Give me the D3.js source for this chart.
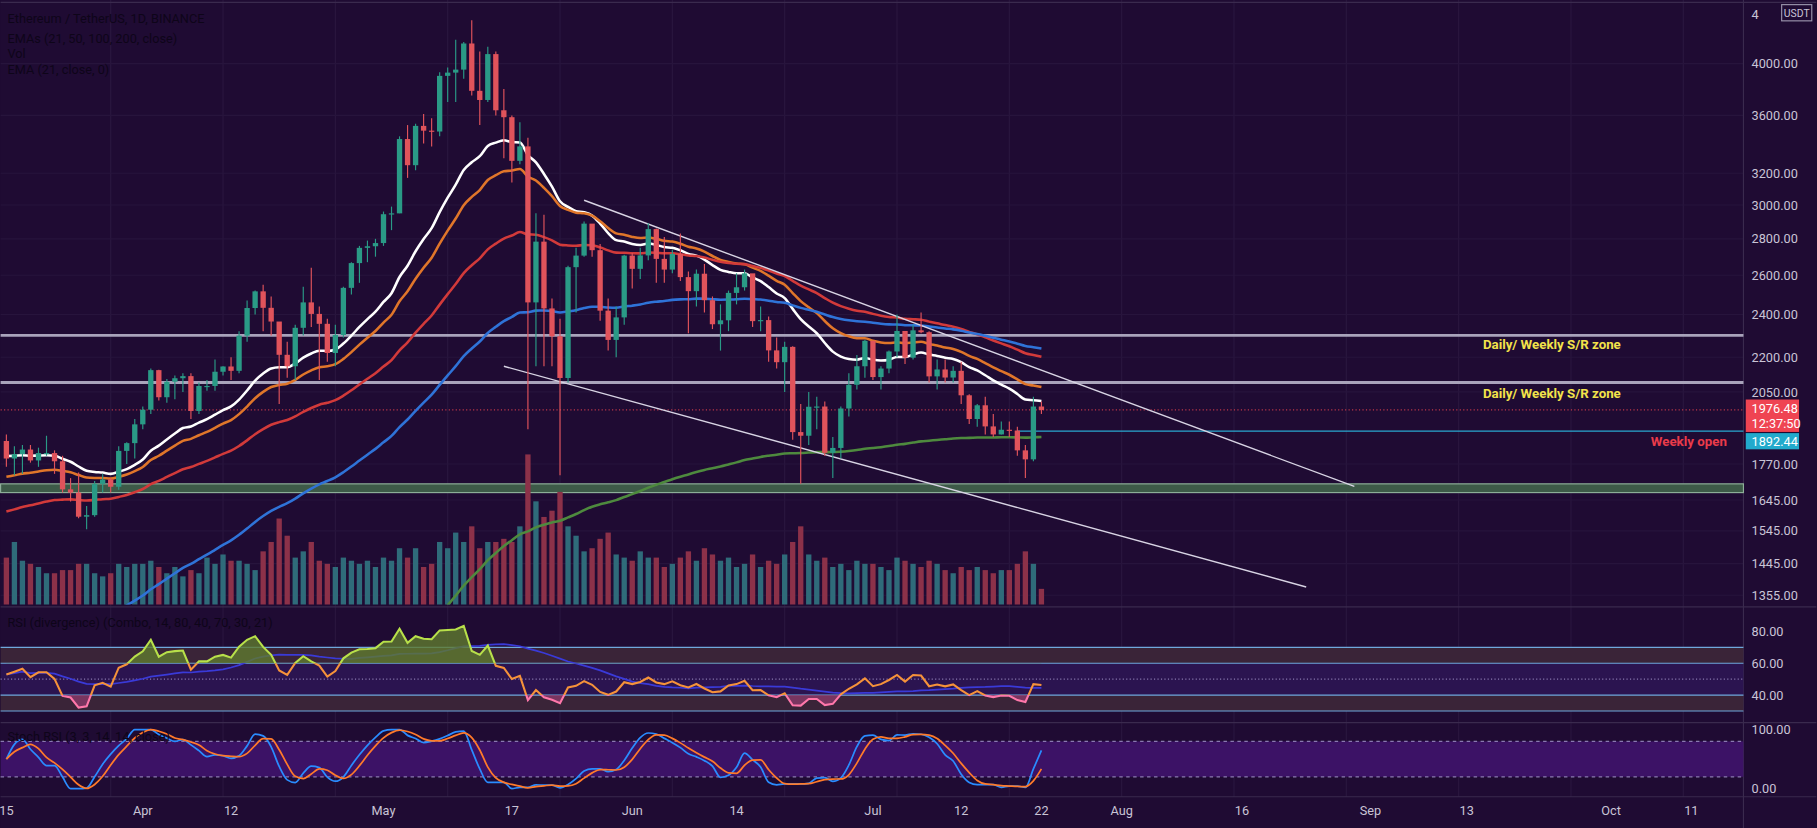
<!DOCTYPE html>
<html><head><meta charset="utf-8">
<script src="https://cdn.jsdelivr.net/npm/d3@7"></script>
<style>html,body{margin:0;padding:0;background:#1f0b33;overflow:hidden}</style>
</head><body><svg id="c"></svg>
<script>
const startDate = "2021-03-15";
const closes = [1790,1806,1823,1783,1810,1810,1780,1681,1670,1590,1595,1700,1715,1690,1818,1847,1919,
1977,2143,2028,2093,2108,2117,1972,2075,2075,2136,2159,2140,2299,2432,2516,2433,2366,2211,2160,2336,2460,2403,2355,2219,2302,2534,2665,2749,2758,2776,
2944,2949,3431,3253,3524,3490,3484,3902,3928,3952,4168,3785,3715,4079,3638,3587,3282,3380,2460,2784,2430,2296,2109,2643,2706,2888,2736,2419,2279,2386,2706,
2634,2707,2856,2688,2630,2715,2590,2517,2608,2471,2353,2372,2508,2537,2610,2368,2373,2231,2178,2247,1889,1875,1989,1990,1811,1829,1982,2080,2160,2275,
2113,2150,2226,2321,2198,2324,2315,2116,2146,2111,2140,2036,1940,1995,1911,1880,1898,1895,1820,1787,1990,1976];
const highs = [1880,1835,1840,1840,1830,1875,1820,1800,1720,1740,1625,1710,1735,1720,1835,1850,1940,
1990,2150,2145,2105,2120,2130,2130,2090,2100,2190,2160,2200,2320,2470,2520,2550,2490,2360,2270,2350,2540,2640,2440,2380,2350,2540,2670,2760,2790,2800,
2960,2990,3450,3530,3540,3610,3580,3930,3970,4200,4180,4370,4100,4140,4100,3800,3600,3550,3440,2950,2940,2480,2380,2650,2750,2900,2880,2770,2480,2440,2710,
2720,2750,2890,2860,2810,2740,2830,2620,2630,2660,2490,2450,2520,2610,2630,2600,2440,2390,2290,2270,2250,2000,2050,2030,2010,1870,1990,2130,2210,2280,
2270,2160,2230,2400,2320,2350,2410,2320,2190,2190,2160,2180,2040,2000,2030,1960,1930,1930,1910,1840,2030,2010];
const lows = [1760,1730,1735,1775,1760,1800,1735,1670,1640,1585,1550,1590,1670,1670,1680,1770,1790,
1900,1960,2015,2005,2020,2050,1940,1960,2055,2055,2120,2100,2130,2270,2400,2320,2300,2000,2110,2100,2300,2340,2100,2180,2160,2290,2500,2560,2670,2700,
2760,2850,2950,3170,3220,3400,3380,3450,3700,3700,3880,3750,3530,3700,3600,3300,3140,3260,1900,2160,2160,2160,1730,2090,2410,2700,2700,2370,2230,2200,2350,
2530,2580,2680,2560,2560,2610,2570,2310,2440,2410,2330,2230,2320,2450,2520,2340,2320,2180,2150,2050,1860,1700,1840,1900,1800,1720,1790,1950,2060,2110,
2100,2060,2130,2200,2170,2190,2310,2090,2060,2090,2090,2000,1920,1910,1880,1870,1880,1870,1800,1720,1780,1960];
const volumes = [30,40,28,26,24,20,20,22,22,26,26,20,18,20,26,24,26,26,28,24,20,24,18,22,20,30,26,32,28,28,26,22,34,40,55,44,30,34,40,28,26,24,30,28,26,28,24,
30,28,36,30,36,24,26,40,36,46,40,50,36,40,40,42,40,50,96,66,56,60,72,50,44,34,36,42,46,32,30,
28,34,30,30,24,26,30,34,28,36,32,28,30,24,26,32,24,28,26,32,40,50,32,28,30,24,26,22,28,26,
26,24,22,30,28,26,24,28,26,22,20,24,22,24,22,20,22,22,26,34,26,10];
const priceTicks = [4000,3600,3200,3000,2800,2600,2400,2200,2050,1770,1645,1545,1445,1355];
const rsiTicks = [80,60,40];
const stochTicks = [100,0];
const xTicks = [["2021-03-15","15"],["2021-04-01","Apr"],["2021-04-12","12"],["2021-05-01","May"],["2021-05-17","17"],["2021-06-01","Jun"],["2021-06-14","14"],["2021-07-01","Jul"],["2021-07-12","12"],["2021-07-22","22"],["2021-08-01","Aug"],["2021-08-16","16"],["2021-09-01","Sep"],["2021-09-13","13"],["2021-10-01","Oct"],["2021-10-11","11"]];
const emaPeriods = [21,30,55,90,200];
const emaSeeds = [1800,1720,1600,1150,520];
const emaColors = ["#ffffff","#e0762a","#d23a3a","#2f73d8","#4e8a3e"];
const srLevels = [2300,2090];
const zone = [1670,1700];
const weeklyOpen = 1892.44;
const lastPrice = 1976.48;
const trend1 = [["2021-05-26",3029],["2021-08-30",1691]];
const trend2 = [["2021-05-16",2160],["2021-08-24",1378]];

const W=1568,H=715;
const svg=d3.select("#c").attr("width",1817).attr("height",828).attr("viewBox",`0 0 ${W} ${H}`);
const parse=d3.utcParse("%Y-%m-%d");
const d0=parse(startDate);
const dates=closes.map((c,i)=>d3.utcDay.offset(d0,i));
const opens=closes.map((c,i)=>i===0?1855:closes[i-1]);
const x=d3.scaleUtc().domain([parse("2021-03-15"),parse("2021-10-11")]).range([5,1460]);
const y=d3.scaleLog().domain([1355,4000]).range([514,55]);
const vy=d3.scaleLinear().domain([0,100]).range([522,387]);
const ry=d3.scaleLinear().domain([30,70]).range([614,559]);
const sy=d3.scaleLinear().domain([0,100]).range([681,630]);
const plotR=1505;

svg.append("rect").attr("width",W).attr("height",H).attr("fill","#1f0b33");
const g=svg.append("g");
x.ticks(d3.utcWeek.every(2)).forEach(t=>g.append("line").attr("x1",x(t)).attr("x2",x(t)).attr("y1",0).attr("y2",688).attr("stroke","#2a173f").attr("stroke-width",1));
priceTicks.forEach(p=>g.append("line").attr("x1",0).attr("x2",plotR).attr("y1",y(p)).attr("y2",y(p)).attr("stroke","#27143c"));
[[524],[624],[688]].forEach(([yy])=>g.append("line").attr("x1",0).attr("x2",W).attr("y1",yy).attr("y2",yy).attr("stroke","#3a2a4e"));
g.append("line").attr("x1",plotR).attr("x2",plotR).attr("y1",0).attr("y2",H).attr("stroke","#3a2a4e");
g.append("line").attr("x1",0).attr("x2",W).attr("y1",2).attr("y2",2).attr("stroke","#3a2a4e");

svg.append("rect").attr("x",0).attr("width",plotR).attr("y",y(zone[1])).attr("height",y(zone[0])-y(zone[1])).attr("fill","#3d5a48").attr("stroke","#8fb09a").attr("stroke-width",1);
srLevels.forEach(p=>svg.append("line").attr("x1",0).attr("x2",plotR).attr("y1",y(p)).attr("y2",y(p)).attr("stroke","#a9a3bb").attr("stroke-width",2.5));
svg.append("line").attr("x1",0).attr("x2",plotR).attr("y1",y(lastPrice)).attr("y2",y(lastPrice)).attr("stroke","#c0394a").attr("stroke-dasharray","1,2");
svg.append("line").attr("x1",x(parse("2021-07-19"))).attr("x2",plotR).attr("y1",y(weeklyOpen)).attr("y2",y(weeklyOpen)).attr("stroke","#2aa8d0");

const bw=4.6;
svg.append("g").selectAll("rect").data(volumes).join("rect")
 .attr("x",(v,i)=>x(dates[i])-bw/2).attr("width",bw).attr("y",v=>vy(v)).attr("height",v=>522-vy(v))
 .attr("fill",(v,i)=>closes[i]>=opens[i]?"#2f6b7a":"#8c3149");

svg.append("clipPath").attr("id","mainclip").append("rect").attr("x",0).attr("y",0).attr("width",plotR).attr("height",522);
emaPeriods.forEach((p,k)=>{
  const a=2/(p+1); let e=emaSeeds[k]; const vals=closes.map(c=>(e=e+a*(c-e)));
  const line=d3.line().x((v,i)=>x(dates[i])).y(v=>y(Math.max(v,1000))).curve(d3.curveMonotoneX);
  svg.append("path").datum(vals).attr("d",line).attr("fill","none").attr("stroke",emaColors[k]).attr("stroke-width",2.2).attr("clip-path","url(#mainclip)");
});

[trend1,trend2].forEach(t=>svg.append("line").attr("x1",x(parse(t[0][0]))).attr("y1",y(t[0][1])).attr("x2",x(parse(t[1][0]))).attr("y2",y(t[1][1])).attr("stroke","#d8d4e4").attr("stroke-width",1.2));

const cg=svg.append("g");
closes.forEach((c,i)=>{
  const up=c>=opens[i], col=up?"#2a9a86":"#e0535b";
  const cx=x(dates[i]);
  cg.append("line").attr("x1",cx).attr("x2",cx).attr("y1",y(highs[i])).attr("y2",y(lows[i])).attr("stroke",col);
  const t=y(Math.max(c,opens[i])),b=y(Math.min(c,opens[i]));
  cg.append("rect").attr("x",cx-bw/2).attr("width",bw).attr("y",t).attr("height",Math.max(1,b-t)).attr("fill",col);
});

const rsi=[];{let ag=18,al=16;closes.forEach((c,i)=>{const ch=i===0?0:c-closes[i-1];ag=(ag*13+Math.max(ch,0))/14;al=(al*13+Math.max(-ch,0))/14;rsi.push(100-100/(1+ag/al));});}
const rsiMA=rsi.map((v,i)=>d3.mean(rsi.slice(Math.max(0,i-20),i+1)));
svg.append("rect").attr("x",0).attr("width",plotR).attr("y",ry(70)).attr("height",ry(60)-ry(70)).attr("fill","#3a2438");
svg.append("rect").attr("x",0).attr("width",plotR).attr("y",ry(40)).attr("height",ry(30)-ry(40)).attr("fill","#3a2438");
svg.append("rect").attr("x",0).attr("width",plotR).attr("y",ry(60)).attr("height",ry(40)-ry(60)).attr("fill","#2b1450");
[70,60,40,30].forEach(v=>svg.append("line").attr("x1",0).attr("x2",plotR).attr("y1",ry(v)).attr("y2",ry(v)).attr("stroke","#6fa8dc"));
svg.append("line").attr("x1",0).attr("x2",plotR).attr("y1",ry(50)).attr("y2",ry(50)).attr("stroke","#8a7ab0").attr("stroke-dasharray","1,2");
const defs=svg.append("defs");
defs.append("clipPath").attr("id","above").append("rect").attr("x",0).attr("y",500).attr("width",plotR).attr("height",ry(60)-500);
defs.append("clipPath").attr("id","mid").append("rect").attr("x",0).attr("y",ry(60)).attr("width",plotR).attr("height",ry(40)-ry(60));
defs.append("clipPath").attr("id","below").append("rect").attr("x",0).attr("y",ry(40)).attr("width",plotR).attr("height",40);
const rl=d3.line().x((v,i)=>x(dates[i])).y(v=>ry(v));
svg.append("path").datum(rsiMA).attr("d",rl).attr("fill","none").attr("stroke","#3a3ad8").attr("stroke-width",1.5);
svg.append("path").datum(rsi).attr("d",d3.area().x((v,i)=>x(dates[i])).y0(ry(60)).y1(v=>ry(v))).attr("fill","#5f7a2e").attr("opacity",0.8).attr("clip-path","url(#above)");
svg.append("path").datum(rsi).attr("d",d3.area().x((v,i)=>x(dates[i])).y0(ry(40)).y1(v=>ry(v))).attr("fill","#8a3a6a").attr("opacity",0.8).attr("clip-path","url(#below)");
[["above","#b8e04a"],["mid","#f5923a"],["below","#ff77aa"]].forEach(([c,col])=>svg.append("path").datum(rsi).attr("d",rl).attr("fill","none").attr("stroke",col).attr("stroke-width",1.8).attr("clip-path",`url(#${c})`));

const raw=rsi.map((v,i)=>{const w=rsi.slice(Math.max(0,i-13),i+1);const mn=d3.min(w),mx=d3.max(w);return mx>mn?(v-mn)/(mx-mn)*100:50;});
const K=raw.map((v,i)=>d3.mean(raw.slice(Math.max(0,i-2),i+1)));
const D=K.map((v,i)=>d3.mean(K.slice(Math.max(0,i-2),i+1)));
svg.append("rect").attr("x",0).attr("width",plotR).attr("y",sy(80)).attr("height",sy(20)-sy(80)).attr("fill","#3c1266");
[80,20].forEach(v=>svg.append("line").attr("x1",0).attr("x2",plotR).attr("y1",sy(v)).attr("y2",sy(v)).attr("stroke","#8a7ab0").attr("stroke-dasharray","3,3"));
const sl=d3.line().x((v,i)=>x(dates[i])).y(v=>sy(v)).curve(d3.curveMonotoneX);
svg.append("path").datum(K).attr("d",sl).attr("fill","none").attr("stroke","#2a8cff").attr("stroke-width",1.5);
svg.append("path").datum(D).attr("d",sl).attr("fill","none").attr("stroke","#ff7a2a").attr("stroke-width",1.5);

const tx=(xx,yy,t,o={})=>svg.append("text").attr("x",xx).attr("y",yy).text(t).attr("font-family","Roboto, sans-serif").attr("font-size",o.s||11).attr("fill",o.c||"#c9c4d6").attr("text-anchor",o.a||"start").attr("font-weight",o.w||"normal");
priceTicks.forEach(p=>tx(1512,y(p)+4,p.toFixed(2)));
tx(1512,16,"4");
rsiTicks.forEach(v=>tx(1512,ry(v)+4,v.toFixed(2)));
stochTicks.forEach(v=>tx(1512,sy(v)+4,v.toFixed(2)));
xTicks.forEach(([d,l])=>tx(x(parse(d)),704,l,{a:"middle"}));
svg.append("rect").attr("x",1507).attr("y",345).attr("width",46).attr("height",28).attr("fill","#ef4452");
tx(1512,357,"1976.48",{c:"#fff"});tx(1512,370,"12:37:50",{c:"#fff"});
svg.append("rect").attr("x",1507).attr("y",374).attr("width",46).attr("height",14).attr("fill","#22aacc");
tx(1512,385,"1892.44",{c:"#fff"});
svg.append("rect").attr("x",1538).attr("y",4).attr("width",26).attr("height",14).attr("fill","none").attr("stroke","#9a94ac");
tx(1551,15,"USDT",{a:"middle",s:9});
tx(1280,301,"Daily/ Weekly S/R zone",{c:"#f2e24a",w:"bold",s:11.5});
tx(1280,344,"Daily/ Weekly S/R zone",{c:"#f2e24a",w:"bold",s:11.5});
tx(1425,385,"Weekly open",{c:"#ea3b4a",w:"bold",s:11.5});
[["Ethereum / TetherUS, 1D, BINANCE",20],["EMAs (21, 50, 100, 200, close)",37],["Vol",50],["EMA (21, close, 0)",64]].forEach(([t,yy])=>tx(6,yy,t,{c:"#0e0519"}));
tx(6,541,"RSI (divergence) (Combo, 14, 80, 40, 70, 30, 21)",{c:"#0e0519"});
tx(6,640,"Stoch RSI (3, 3, 14, 14, close)",{c:"#0e0519"});
</script></body></html>
